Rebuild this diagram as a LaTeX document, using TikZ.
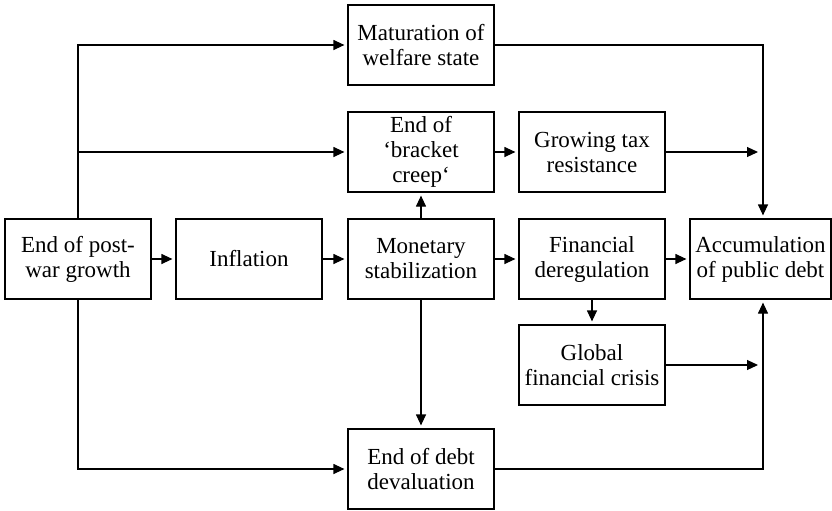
\documentclass[tikz,border=0pt]{standalone}
\usepackage{fontspec}
\setmainfont{Liberation Serif}
\usetikzlibrary{arrows.meta}

\tikzset{
    cause/.style={draw, line width=0.6pt, minimum width=73pt, minimum height=40pt,
        inner sep=0pt, align=center, font=\fontsize{11.5}{12.5}\selectfont},
    arr/.style={-{Triangle[length=5.5pt, width=5pt]}, line width=0.6pt, shorten >=1.5pt},
}

\begin{document}
\begin{tikzpicture}[x=0.5pt, y=-0.5pt]

    \useasboundingbox (0,0) rectangle (832,510);

    % middle row
    \node[cause] (postwar)   at (78,259)  {End of post-\\war growth};
    \node[cause] (inflation) at (249,259) {Inflation};
    \node[cause] (monetary)  at (421,259) {Monetary\\stabilization};
    \node[cause] (financial) at (592,259) {Financial\\deregulation};
    \node[cause, minimum width=70.5pt] (accum) at (760.5,259) {Accumulation\\of public debt};

    % upper and lower rows
    \node[cause] (welfare) at (421,45)  {Maturation of\\welfare state};
    \node[cause] (bracket) at (421,152) {End of\\‘bracket\\creep‘};
    \node[cause] (taxres)  at (592,152) {Growing tax\\resistance};
    \node[cause] (crisis)  at (592,365) {Global\\financial crisis};
    \node[cause] (devalue) at (421,469) {End of debt\\devaluation};

    \coordinate (rail) at (763,0);

    % chain
    \draw[arr] (postwar) -- (inflation);
    \draw[arr] (inflation) -- (monetary);
    \draw[arr] (monetary) -- (financial);
    \draw[arr] (financial) -- (accum);
    \draw[arr] (bracket) -- (taxres);
    \draw[arr] (monetary) -- (bracket);
    \draw[arr] (monetary) -- (devalue);
    \draw[arr] (financial) -- (crisis);

    % left branches
    \draw[arr] (postwar.north) |- (welfare.west);
    \draw[arr] (postwar.north |- bracket.west) -- (bracket.west);
    \draw[arr] (postwar.south) |- (devalue.west);

    % right rail
    \draw[arr] (welfare.east) -- (rail |- welfare.east) -- (rail |- accum.north);
    \draw[arr, shorten >=2.5pt] (taxres.east) -- (rail |- taxres.east);
    \draw[arr, shorten >=2.5pt] (crisis.east) -- (rail |- crisis.east);
    \draw[arr] (devalue.east) -- (rail |- devalue.east) -- (rail |- accum.south);

\end{tikzpicture}
\end{document}
